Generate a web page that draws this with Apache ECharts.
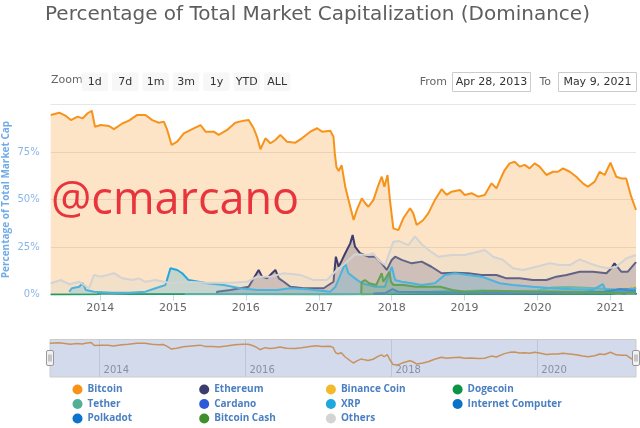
<!DOCTYPE html>
<html><head><meta charset="utf-8">
<script src="https://cdn.jsdelivr.net/npm/echarts@6/dist/echarts.min.js"></script>
<style>html,body{margin:0;padding:0;background:#fff}#c{width:640px;height:428px}</style>
</head><body><div id="c"></div>
<script>
const titleText = 'Percentage of Total Market Capitalization (Dominance)';
const yAxisTitle = 'Percentage of Total Market Cap';
const yTicks = [0, 25, 50, 75, 100];
const xTickDates = ['2014-01-01','2015-01-01','2016-01-01','2017-01-01','2018-01-01','2019-01-01','2020-01-01','2021-01-01'];
const navTickDates = ['2014-01-01','2016-01-01','2018-01-01','2020-01-01'];
const rangeStart = '2013-04-28';
const rangeEnd = '2021-05-09';
const zoomButtons = ['1d','7d','1m','3m','1y','YTD','ALL'];
const fromLabel = 'Apr 28, 2013';
const toLabel = 'May 9, 2021';
const watermark = '@cmarcano';

const seriesNames = ['Bitcoin','Ethereum','Binance Coin','Dogecoin','Tether','Cardano','XRP','Internet Computer','Polkadot','Bitcoin Cash','Others'];
const seriesColors = ['#f7931a','#3c3c6e','#f3ba2f','#0b9444','#50af95','#2a5ada','#1fa8e0','#0b73c7','#0a74cf','#3f8f2c','#d3d3d3'];

const bitcoin = [
['2013-04-28',94.5],['2013-06-10',95.7],['2013-07-13',94.0],['2013-08-07',91.8],['2013-09-10',93.6],['2013-10-05',92.7],['2013-10-30',95.4],['2013-11-20',96.7],['2013-12-06',88.3],['2014-01-04',89.2],['2014-02-14',88.7],['2014-03-11',87.0],['2014-04-22',90.0],['2014-05-25',91.5],['2014-07-06',94.5],['2014-08-16',94.5],['2014-09-19',91.8],['2014-10-22',90.4],['2014-11-16',91.0],['2014-12-03',86.6],['2014-12-25',78.7],['2015-01-22',80.4],['2015-02-24',84.8],['2015-04-07',87.0],['2015-05-19',89.2],['2015-06-13',85.7],['2015-07-24',85.7],['2015-08-18',84.0],['2015-09-29',86.6],['2015-11-09',90.4],['2015-12-21',91.5],['2016-01-15',91.8],['2016-02-09',87.5],['2016-02-26',83.0],['2016-03-14',76.4],['2016-04-08',82.2],['2016-05-03',79.6],['2016-05-28',81.3],['2016-06-22',84.0],['2016-07-25',80.4],['2016-09-05',79.9],['2016-10-08',82.2],['2016-11-19',85.7],['2016-12-23',87.5],['2017-01-17',85.7],['2017-02-27',86.2],['2017-03-15',83.0],['2017-03-22',74.0],['2017-03-30',67.0],['2017-04-10',65.0],['2017-04-25',68.0],['2017-05-13',56.7],['2017-06-07',46.2],['2017-06-24',39.2],['2017-07-10',44.5],['2017-08-04',50.6],['2017-08-21',48.0],['2017-09-06',46.2],['2017-10-01',49.7],['2017-10-26',57.6],['2017-11-12',62.0],['2017-11-25',56.7],['2017-12-11',62.9],['2017-12-23',49.7],['2018-01-09',34.8],['2018-02-03',33.9],['2018-02-28',40.1],['2018-04-03',45.4],['2018-04-19',42.7],['2018-05-06',36.6],['2018-06-08',39.2],['2018-07-03',42.7],['2018-08-05',49.7],['2018-09-08',55.4],['2018-10-03',52.4],['2018-10-28',54.1],['2018-12-09',55.0],['2019-01-02',52.4],['2019-02-05',53.3],['2019-03-10',51.5],['2019-04-12',52.4],['2019-05-16',58.5],['2019-06-10',55.9],['2019-07-05',62.0],['2019-07-21',65.5],['2019-08-15',69.0],['2019-09-09',69.9],['2019-10-04',67.3],['2019-10-29',68.2],['2019-11-23',66.4],['2019-12-18',69.0],['2020-01-12',67.3],['2020-02-15',62.9],['2020-03-19',64.6],['2020-04-13',64.6],['2020-05-08',66.4],['2020-06-11',64.6],['2020-07-14',62.0],['2020-08-16',58.5],['2020-09-10',56.7],['2020-10-14',59.4],['2020-11-08',64.6],['2020-12-03',62.9],['2021-01-01',69.4],['2021-01-30',62.0],['2021-02-24',61.1],['2021-03-21',61.1],['2021-04-15',51.5],['2021-05-09',44.5]
];
const ethereum = [
['2015-08-07',0.0],['2015-08-10',1.5],['2015-10-16',2.4],['2016-01-15',4.1],['2016-03-05',12.9],['2016-03-22',9.4],['2016-04-16',8.5],['2016-05-11',11.2],['2016-05-28',12.9],['2016-06-14',8.5],['2016-07-09',6.7],['2016-08-11',4.1],['2016-10-16',3.3],['2017-01-25',3.3],['2017-03-15',6.7],['2017-03-27',19.9],['2017-04-10',14.6],['2017-04-27',18.2],['2017-05-13',21.7],['2017-06-07',26.9],['2017-06-19',31.3],['2017-07-01',25.2],['2017-07-26',21.7],['2017-09-06',19.9],['2017-10-10',19.9],['2017-11-12',16.4],['2017-12-07',12.9],['2018-01-01',18.2],['2018-01-18',19.9],['2018-02-20',18.2],['2018-04-11',16.4],['2018-05-31',17.3],['2018-07-19',14.6],['2018-09-08',11.2],['2018-11-13',11.5],['2019-01-19',11.2],['2019-03-27',10.3],['2019-06-10',10.3],['2019-07-30',8.5],['2019-10-04',8.5],['2019-12-09',7.6],['2020-02-15',7.6],['2020-04-05',9.4],['2020-05-26',10.3],['2020-07-31',12.0],['2020-10-05',12.0],['2020-12-12',11.2],['2021-01-05',13.8],['2021-01-21',16.4],['2021-02-24',12.0],['2021-03-29',12.0],['2021-05-09',17.0]
];
const binanceCoin = [
['2017-08-01',0.0],['2018-01-01',0.4],['2018-06-01',0.6],['2019-01-01',0.5],['2019-06-01',1.4],['2020-01-01',0.9],['2020-06-01',0.9],['2020-12-01',0.8],['2021-02-20',3.0],['2021-04-15',3.3],['2021-05-09',4.4]
];
const dogecoin = [
['2013-04-28',0.0],['2013-12-15',0.1],['2014-01-15',0.6],['2014-06-01',0.3],['2015-01-01',0.3],['2016-01-01',0.2],['2017-01-01',0.1],['2018-01-05',0.2],['2019-01-01',0.3],['2020-01-01',0.2],['2021-01-01',0.2],['2021-02-05',0.9],['2021-03-15',0.4],['2021-04-18',2.5],['2021-05-09',3.5]
];
const tether = [
['2015-03-01',0.1],['2017-06-01',0.1],['2017-10-01',0.3],['2018-01-01',0.7],['2018-04-01',1.0],['2018-07-01',1.3],['2018-10-01',1.8],['2019-01-01',1.7],['2019-04-01',2.2],['2019-07-01',1.4],['2019-10-01',1.9],['2020-01-01',2.1],['2020-03-15',3.7],['2020-06-01',3.9],['2020-09-01',3.6],['2020-12-01',3.0],['2021-02-01',2.6],['2021-04-01',2.1],['2021-05-09',2.4]
];
const cardano = [
['2017-10-01',0.5],['2017-12-01',0.8],['2018-01-05',2.8],['2018-02-01',1.5],['2018-06-01',1.3],['2018-12-01',1.0],['2019-06-01',0.8],['2020-01-01',0.5],['2020-07-01',1.1],['2020-12-01',1.2],['2021-02-20',2.8],['2021-04-01',2.7],['2021-05-09',2.9]
];
const xrp = [
['2013-07-30',1.5],['2013-08-12',3.3],['2013-09-18',4.1],['2013-10-05',5.9],['2013-10-21',2.4],['2013-12-01',1.5],['2014-03-03',0.9],['2014-05-25',0.9],['2014-08-16',1.5],['2014-10-05',3.3],['2014-11-24',5.0],['2014-12-19',13.8],['2015-01-22',12.9],['2015-02-16',11.2],['2015-03-20',7.6],['2015-06-21',5.9],['2015-09-12',5.0],['2015-12-04',3.3],['2016-02-26',2.4],['2016-06-06',2.4],['2016-08-11',3.3],['2016-11-02',2.7],['2017-02-27',1.5],['2017-03-25',4.1],['2017-04-01',5.9],['2017-05-13',16.4],['2017-05-29',11.2],['2017-07-01',8.5],['2017-08-04',5.9],['2017-10-10',4.1],['2017-11-28',4.1],['2018-01-01',14.6],['2018-01-18',7.6],['2018-02-20',6.7],['2018-04-11',5.9],['2018-05-31',5.0],['2018-08-05',5.9],['2018-09-24',10.3],['2018-11-13',11.2],['2019-01-19',10.3],['2019-03-27',9.4],['2019-04-21',8.5],['2019-06-26',5.9],['2019-09-01',5.0],['2019-12-09',4.1],['2020-03-19',3.3],['2020-06-27',2.7],['2020-10-05',2.4],['2020-11-24',5.5],['2020-12-07',2.4],['2021-03-21',1.5],['2021-04-14',3.2],['2021-05-09',2.9]
];
const internetComputer = [
['2021-05-08',0.0],['2021-05-09',0.8]
];
const polkadot = [
['2020-08-20',0.8],['2020-09-15',1.5],['2020-12-01',1.5],['2021-02-15',2.8],['2021-04-01',2.3],['2021-05-09',2.0]
];
const bitcoinCash = [
['2017-08-01',0.5],['2017-08-03',6.5],['2017-08-20',7.6],['2017-09-10',5.9],['2017-10-15',5.0],['2017-11-12',11.2],['2017-11-20',6.7],['2017-12-20',12.0],['2017-12-28',6.7],['2018-01-10',5.0],['2018-03-01',5.0],['2018-05-01',4.1],['2018-07-01',4.1],['2018-09-01',4.1],['2018-11-01',2.4],['2019-01-01',1.5],['2019-06-01',2.0],['2019-12-01',1.5],['2020-03-01',1.6],['2020-08-01',1.3],['2021-01-01',0.9],['2021-05-09',1.1]
];
const others = [
['2013-04-28',5.9],['2013-06-19',7.6],['2013-07-30',5.4],['2013-09-18',6.7],['2013-11-06',3.3],['2013-12-01',10.3],['2014-01-04',9.4],['2014-03-11',11.2],['2014-04-22',8.5],['2014-06-10',7.6],['2014-07-14',8.5],['2014-08-16',6.7],['2014-10-05',7.6],['2014-11-16',6.7],['2014-12-28',5.9],['2015-03-04',6.7],['2015-06-21',6.2],['2015-10-16',6.2],['2016-01-07',6.7],['2016-02-26',9.4],['2016-05-03',9.4],['2016-07-09',11.2],['2016-09-30',10.3],['2016-12-05',7.6],['2017-02-10',7.6],['2017-04-01',12.9],['2017-05-13',16.4],['2017-07-01',21.2],['2017-09-06',20.8],['2017-10-01',21.7],['2017-10-26',18.2],['2017-11-28',15.5],['2018-01-09',27.8],['2018-02-05',28.2],['2018-03-25',26.0],['2018-04-27',30.6],['2018-05-31',26.5],['2018-07-05',23.4],['2018-08-22',19.9],['2018-10-28',20.8],['2019-01-02',20.8],['2019-03-10',22.5],['2019-04-12',23.4],['2019-05-24',19.9],['2019-07-13',18.2],['2019-09-01',13.8],['2019-10-21',12.9],['2019-12-27',14.6],['2020-03-03',16.4],['2020-04-22',15.5],['2020-06-11',15.5],['2020-07-31',18.5],['2020-09-19',16.4],['2020-11-08',14.6],['2020-12-20',13.8],['2021-01-30',14.6],['2021-03-21',19.0],['2021-05-09',20.8]
];
const seriesData = [bitcoin, ethereum, binanceCoin, dogecoin, tether, cardano, xrp, internetComputer, polkadot, bitcoinCash, others];

const legendColumns = [
  ['Bitcoin','Tether','Polkadot'],
  ['Ethereum','Cardano','Bitcoin Cash'],
  ['Binance Coin','XRP','Others'],
  ['Dogecoin','Internet Computer']
];

const chart = echarts.init(document.getElementById('c'), null, {renderer: 'canvas'});
const P = s => echarts.time.parse(s).getTime();
const toXY = arr => arr.map(([d, v]) => [P(d), v]);
const yearOf = v => String(new Date(v).getFullYear());
const FONT = 'DejaVu Sans';

const mainSeries = seriesNames.map((name, i) => ({
  name, type: 'line', xAxisIndex: 0, yAxisIndex: 0,
  data: toXY(seriesData[i]), showSymbol: false, symbol: 'none',
  color: seriesColors[i],
  lineStyle: {width: 2, color: seriesColors[i]},
  areaStyle: {color: seriesColors[i], opacity: 0.25},
  z: 2 + i
}));

const navSeries = {
  name: 'nav', type: 'line', xAxisIndex: 1, yAxisIndex: 1,
  data: toXY(bitcoin), showSymbol: false, symbol: 'none',
  lineStyle: {width: 1.5, color: '#c9925c'}, silent: true
};

const legends = legendColumns.map((col, k) => ({
  data: col, orient: 'vertical', left: 72.5 + k * 126.7, top: 384.5,
  padding: 0, itemGap: 4.5, itemWidth: 10, itemHeight: 11, icon: 'circle',
  textStyle: {color: '#4a7fc1', fontSize: 10, fontWeight: 'bold', fontFamily: 'Open Sans'}
}));

const graphics = [];
graphics.push({type: 'text', x: 6.5, y: 199.5, rotation: Math.PI / 2,
  style: {text: yAxisTitle, fill: '#72ace6', font: 'bold 10px "Open Sans"', align: 'center', verticalAlign: 'middle'}});
graphics.push({type: 'text', left: 51, top: 75, style: {text: 'Zoom', fill: '#666', font: '11px ' + FONT}});
zoomButtons.forEach((b, i) => {
  const x = 81.6 + i * 30.4;
  graphics.push({type: 'rect', shape: {x: x, y: 72.5, width: 26.4, height: 18.5, r: 2}, style: {fill: '#f7f7f7'}});
  graphics.push({type: 'text', x: x + 13.2, y: 81.7, style: {text: b, fill: '#333', font: '11px ' + FONT, align: 'center', verticalAlign: 'middle'}});
});
graphics.push({type: 'text', x: 447, y: 81.7, style: {text: 'From', fill: '#666', font: '11px ' + FONT, align: 'right', verticalAlign: 'middle'}});
graphics.push({type: 'rect', shape: {x: 452.5, y: 72.5, width: 78, height: 19}, style: {fill: '#fff', stroke: '#cccccc', lineWidth: 1}});
graphics.push({type: 'text', x: 491.5, y: 81.7, style: {text: fromLabel, fill: '#333', font: '11px ' + FONT, align: 'center', verticalAlign: 'middle'}});
graphics.push({type: 'text', x: 551, y: 81.7, style: {text: 'To', fill: '#666', font: '11px ' + FONT, align: 'right', verticalAlign: 'middle'}});
graphics.push({type: 'rect', shape: {x: 558.5, y: 72.5, width: 78, height: 19}, style: {fill: '#fff', stroke: '#cccccc', lineWidth: 1}});
graphics.push({type: 'text', x: 597.5, y: 81.7, style: {text: toLabel, fill: '#333', font: '11px ' + FONT, align: 'center', verticalAlign: 'middle'}});
graphics.push({type: 'text', left: 51, top: 179, z: 50, style: {text: watermark, fill: '#e8353d', font: '45px "Open Sans"'}});
[46.5, 632.5].forEach(hx => {
  graphics.push({type: 'rect', z: 60, shape: {x: hx, y: 350.5, width: 7, height: 15, r: 1.5}, style: {fill: '#f2f2f2', stroke: '#999', lineWidth: 1}});
  graphics.push({type: 'line', z: 61, shape: {x1: hx + 2.5, y1: 354.5, x2: hx + 2.5, y2: 361.5}, style: {stroke: '#999', lineWidth: 1}});
  graphics.push({type: 'line', z: 61, shape: {x1: hx + 4.5, y1: 354.5, x2: hx + 4.5, y2: 361.5}, style: {stroke: '#999', lineWidth: 1}});
});

chart.setOption({
  animation: false,
  backgroundColor: '#fff',
  title: {text: titleText, left: 45, top: 5, padding: 0, textStyle: {fontSize: 20, fontWeight: 'normal', color: '#5e5e5e', fontFamily: FONT}},
  legend: legends,
  grid: [
    {left: 50.7, right: 4, top: 104.5, height: 190, show: false, containLabel: false, outerBoundsMode: 'none'},
    {left: 50, right: 4, top: 339.5, height: 37.5, show: true, backgroundColor: '#d2daec', borderColor: '#cccccc', borderWidth: 1, containLabel: false, outerBoundsMode: 'none'}
  ],
  xAxis: [
    {type: 'value', gridIndex: 0, min: P(rangeStart), max: P(rangeEnd),
     axisLine: {lineStyle: {color: '#ccd6eb'}},
     axisTick: {show: true, length: 6, lineStyle: {color: '#ccd6eb'}, customValues: xTickDates.map(P)},
     axisLabel: {color: '#666', fontSize: 11, fontFamily: FONT, margin: 8, customValues: xTickDates.map(P), formatter: yearOf},
     splitLine: {show: false}},
    {type: 'value', gridIndex: 1, min: P(rangeStart), max: P(rangeEnd),
     axisLine: {show: false},
     axisTick: {show: true, inside: true, length: 37.5, lineStyle: {color: '#bcc5da'}, customValues: navTickDates.map(P)},
     axisLabel: {inside: true, align: 'left', margin: 2, padding: [0, 0, 0, 4], color: '#8a90a4', fontSize: 10, fontFamily: FONT,
       customValues: navTickDates.map(P), formatter: yearOf},
     splitLine: {show: false}}
  ],
  yAxis: [
    {type: 'value', gridIndex: 0, min: 0, max: 100, interval: 25,
     axisLine: {show: false}, axisTick: {show: false},
     axisLabel: {color: '#89b6e8', fontSize: 10, fontFamily: FONT, margin: 11, formatter: v => v === 100 ? '' : v + '%'},
     splitLine: {lineStyle: {color: '#e6e6e6'}}},
    {type: 'value', gridIndex: 1, min: 0, max: 105, show: false}
  ],
  graphic: graphics,
  series: mainSeries.concat([navSeries])
});
</script></body></html>
